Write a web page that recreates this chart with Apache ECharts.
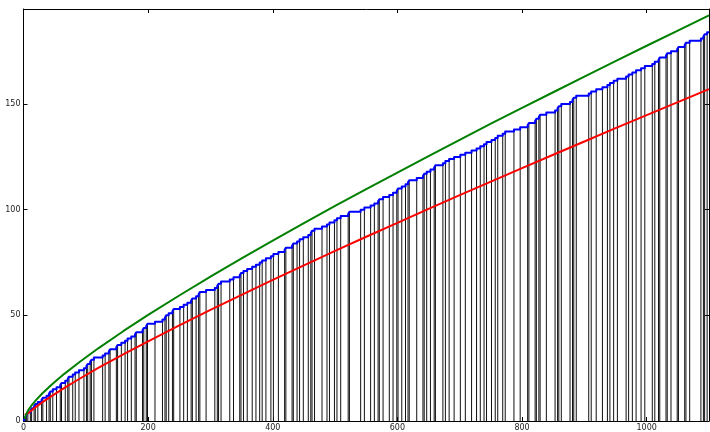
<!DOCTYPE html>
<html>
<head>
<meta charset="utf-8">
<script src="https://cdn.jsdelivr.net/npm/echarts@6/dist/echarts.min.js"></script>
<style>
html,body{margin:0;padding:0;background:#fff;}
#chart{width:710px;height:432px;}
</style>
</head>
<body>
<div id="chart"></div>
<script>
// Primes up to 1100 (positions of the black vertical lines / steps of the blue count line)
const primes = [2,3,5,7,11,13,17,19,23,29,31,37,41,43,47,53,59,61,67,71,73,79,83,89,97,
101,103,107,109,113,127,131,137,139,149,151,157,163,167,173,179,181,191,193,197,199,
211,223,227,229,233,239,241,251,257,263,269,271,277,281,283,293,
307,311,313,317,331,337,347,349,353,359,367,373,379,383,389,397,
401,409,419,421,431,433,439,443,449,457,461,463,467,479,487,491,499,
503,509,521,523,541,547,557,563,569,571,577,587,593,599,
601,607,613,617,619,631,641,643,647,653,659,661,673,677,683,691,
701,709,719,727,733,739,743,751,757,761,769,773,787,797,
809,811,821,823,827,829,839,853,857,859,863,877,881,883,887,
907,911,919,929,937,941,947,953,967,971,977,983,991,997,
1009,1013,1019,1021,1031,1033,1039,1049,1051,1061,1063,1069,1087,1091,1093,1097];

// Sample x positions for the two smooth curves
const curveX = [2,3,5,8,12,20,30,45,65,90,120,160,200,250,300,350,400,450,500,550,600,650,700,750,800,850,900,950,1000,1050,1100];
// Red curve values
const redY = [2.9,2.7,3.1,3.8,4.8,6.7,8.8,11.8,15.6,20.0,25.1,31.5,37.7,45.3,52.6,59.7,66.8,73.7,80.5,87.2,93.8,100.4,106.9,113.3,119.7,126.0,132.3,138.6,144.8,150.9,157.1];
// Green curve values
const greenY = [1.0,2.2,3.6,5.3,7.0,9.9,13.0,17.2,22.2,27.9,34.4,42.5,50.2,59.4,68.3,77.0,85.4,93.7,101.8,109.8,117.6,125.4,133.1,140.7,148.2,155.6,163.0,170.3,177.6,184.8,192.0];

const xTicks = {min:0, max:1100, interval:200};
const yTicks = {min:0, max:195, interval:50};

const countData = [[0,0]].concat(primes.map((p,i)=>[p,i+1])).concat([[1100, primes.length]]);
const dropData = primes.map((p,i)=>[p,i+1]);
const redData = curveX.map((x,i)=>[x,redY[i]]);
const greenData = curveX.map((x,i)=>[x,greenY[i]]);

const chart = echarts.init(document.getElementById('chart'), null, {renderer:'canvas'});
const axisCommon = {
  type:'value',
  axisLine:{show:true, onZero:false, lineStyle:{color:'#000', width:1}},
  axisTick:{show:true, inside:true, length:4, lineStyle:{color:'#000', width:1}},
  splitLine:{show:false},
  axisLabel:{fontSize:8, color:'#222', fontFamily:'DejaVu Sans', margin:3, showMaxLabel:false,
    formatter:function(v){ return String(v); }}
};
chart.setOption({
  animation:false,
  grid:{left:23.5, right:1, top:9, bottom:8, containLabel:false},
  xAxis:[
    Object.assign({}, axisCommon, xTicks, {position:'bottom'}),
    Object.assign({}, axisCommon, xTicks, {position:'top', axisLabel:{show:false}})
  ],
  yAxis:[
    Object.assign({}, axisCommon, yTicks, {position:'left'}),
    Object.assign({}, axisCommon, yTicks, {position:'right', axisLabel:{show:false}})
  ],
  series:[
    {
      type:'custom', z:1, data:dropData, encode:{x:0, y:1},
      renderItem:function(params, api){
        const a = api.coord([api.value(0), 0]);
        const b = api.coord([api.value(0), api.value(1)]);
        return {type:'line', shape:{x1:a[0], y1:a[1], x2:b[0], y2:b[1]},
          style:{stroke:'#111', lineWidth:1}};
      }
    },
    {type:'line', z:2, data:countData, step:'end', showSymbol:false, symbol:'none',
      lineStyle:{color:'#0000ff', width:2, join:'round'}},
    {type:'line', z:3, data:redData, smooth:false, showSymbol:false, symbol:'none',
      lineStyle:{color:'#ff0000', width:2}},
    {type:'line', z:4, data:greenData, smooth:false, showSymbol:false, symbol:'none',
      lineStyle:{color:'#008000', width:2}}
  ]
});
</script>
</body>
</html>
